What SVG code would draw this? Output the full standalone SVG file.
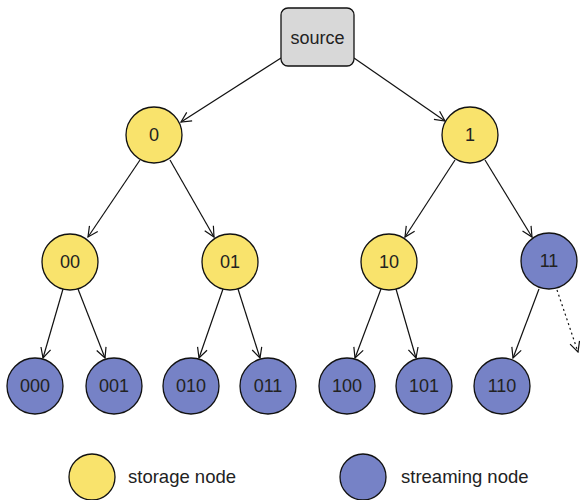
<svg xmlns="http://www.w3.org/2000/svg" width="580" height="500" viewBox="0 0 580 500">
<defs>
<marker id="arr" viewBox="0 0 12 12" refX="11" refY="6" markerWidth="12" markerHeight="12" markerUnits="userSpaceOnUse" orient="auto">
<path d="M1,1 L11,6 L1,11" fill="none" stroke="#111" stroke-width="1.2"/>
</marker>
<style>
.st{fill:#F9E36C;stroke:#111;stroke-width:1.3}
.sm{fill:#7682C6;stroke:#111;stroke-width:1.3}
.lb{font-family:"Liberation Sans",Arial,sans-serif;font-size:18px;fill:#222;text-anchor:middle;dominant-baseline:central}
.lg{font-family:"Liberation Sans",Arial,sans-serif;font-size:18.5px;fill:#222}
.e{stroke:#111;stroke-width:1.2;fill:none;marker-end:url(#arr)}
</style>
</defs>
<rect width="580" height="500" fill="#fff"/>
<g id="connectors">
<line class="e" x1="281" y1="58" x2="181" y2="122"/>
<line class="e" x1="354" y1="58" x2="445" y2="121"/>
<line class="e" x1="140" y1="160" x2="88" y2="237"/>
<line class="e" x1="170" y1="160" x2="214" y2="237"/>
<line class="e" x1="455" y1="160" x2="405" y2="237"/>
<line class="e" x1="485" y1="160" x2="532" y2="237"/>
<line class="e" x1="63" y1="289" x2="43" y2="358"/>
<line class="e" x1="78" y1="289" x2="105" y2="358"/>
<line class="e" x1="223" y1="289" x2="199" y2="358"/>
<line class="e" x1="238" y1="289" x2="260" y2="358"/>
<line class="e" x1="381" y1="289" x2="355" y2="358"/>
<line class="e" x1="396" y1="289" x2="416" y2="358"/>
<line class="e" x1="539" y1="289" x2="513" y2="358"/>
<line class="e" x1="557" y1="290" x2="578" y2="352" stroke-dasharray="2,3"/>
</g>
<g id="source"><rect x="281" y="8" width="73" height="58" rx="7" fill="#D8D8D8" stroke="#111" stroke-width="1.3"/><text class="lb" x="317.5" y="38">source</text></g>
<g id="n0"><circle class="st" cx="154" cy="135" r="28"/><text class="lb" x="154" y="135">0</text></g>
<g id="n1"><circle class="st" cx="470" cy="135" r="28"/><text class="lb" x="470" y="135">1</text></g>
<g id="n00"><circle class="st" cx="70" cy="262" r="28"/><text class="lb" x="70" y="262">00</text></g>
<g id="n01"><circle class="st" cx="230" cy="262" r="28"/><text class="lb" x="230" y="262">01</text></g>
<g id="n10"><circle class="st" cx="389" cy="262" r="28"/><text class="lb" x="389" y="262">10</text></g>
<g id="n11"><circle class="sm" cx="549" cy="261" r="28"/><text class="lb" x="549" y="261">11</text></g>
<g id="n000"><circle class="sm" cx="35" cy="386" r="28"/><text class="lb" x="35" y="386">000</text></g>
<g id="n001"><circle class="sm" cx="114" cy="386" r="28"/><text class="lb" x="114" y="386">001</text></g>
<g id="n010"><circle class="sm" cx="191" cy="386" r="28"/><text class="lb" x="191" y="386">010</text></g>
<g id="n011"><circle class="sm" cx="268" cy="386" r="28"/><text class="lb" x="268" y="386">011</text></g>
<g id="n100"><circle class="sm" cx="347" cy="386" r="28"/><text class="lb" x="347" y="386">100</text></g>
<g id="n101"><circle class="sm" cx="424" cy="386" r="28"/><text class="lb" x="424" y="386">101</text></g>
<g id="n110"><circle class="sm" cx="502" cy="386" r="28"/><text class="lb" x="502" y="386">110</text></g>
<g id="legend-storage"><circle class="st" cx="92" cy="477" r="23"/><text class="lg" x="128" y="483">storage node</text></g>
<g id="legend-streaming"><circle class="sm" cx="363" cy="477" r="23"/><text class="lg" x="401" y="483">streaming node</text></g>
</svg>
